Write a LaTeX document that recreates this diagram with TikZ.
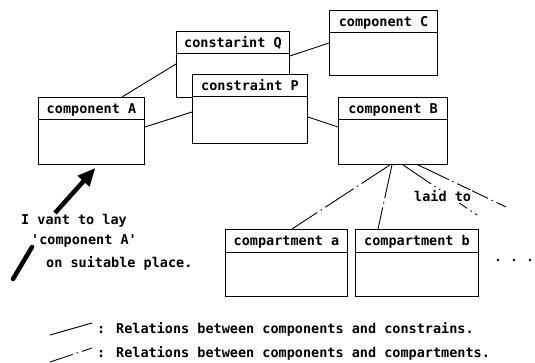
\documentclass[tikz,border=0pt]{standalone}
\usepackage{fontspec}
\newfontfamily\dotfont{DejaVu Sans Mono}
\usetikzlibrary{arrows.meta,calc}
\newcommand\ubox[7]{%
  \node[box, minimum width=#4pt, minimum height=#5pt] (#1) at (#2,#3) {};
  \draw[frame] ([yshift=-#6pt]#1.north west) -- ([yshift=-#6pt]#1.north east);
  \node[title] (#1t) at ([yshift=-17pt]#1.north) {#7};}
\begin{document}
\begin{tikzpicture}[x=1pt,y=-1pt,
  frame/.style={line width=0.9pt},
  box/.style={draw, fill=white, line width=0.9pt, inner sep=0pt, anchor=north west},
  title/.style={font=\dotfont\bfseries\fontsize{13.5}{14}\selectfont, inner sep=0pt, anchor=base},
  rel/.style={line width=0.9pt},
  relc/.style={line width=0.9pt, dash pattern=on 34pt off 4pt on 1.5pt off 4pt},
  txt/.style={font=\dotfont\bfseries\fontsize{13.5}{16}\selectfont, inner sep=0pt, anchor=base west},
  dot/.style={circle, fill, inner sep=0pt, minimum size=2.6pt},
  thickarrow/.style={line width=4.5pt, -{Triangle[length=18pt,width=15pt]}}]
\useasboundingbox (0,0) rectangle (535,363);
\fill[white] (0,0) rectangle (535,363);

% boxes
\ubox{A}{38}{97}{106}{67}{22}{component A}
\ubox{Q}{176}{31}{113}{66}{22}{constarint Q}
\ubox{P}{192}{74}{115}{69}{22}{constraint P}
\ubox{C}{329}{10}{108}{65}{22}{component C}
\ubox{B}{338}{97}{109}{67}{22}{component B}
\ubox{a}{225}{229}{122}{67}{23}{compartment a}
\ubox{b}{355}{229}{123}{67}{23}{compartment b}

% relations with constraints
\draw[rel] ([xshift=84pt]A.north west) -- ([yshift=-33pt]Q.north west);
\draw[rel] ([yshift=-30pt]A.north east) -- ([yshift=-38pt]P.north west);
\draw[rel] ([yshift=-25pt]Q.north east) -- ([yshift=-33pt]C.north west);
\draw[rel] ([yshift=-43pt]P.north east) -- ([yshift=-30pt]B.north west);

% relations with compartments
\coordinate (x1) at (477,215);
\coordinate (x2) at (506,207);
\draw[relc] ([xshift=52pt]B.south west) -- ([xshift=67pt]a.north west);
\draw[relc] ([xshift=54pt]B.south west) -- ([xshift=23pt]b.north west);
\draw[relc] ([xshift=65pt]B.south west) -- (x1);
\draw[relc] ([xshift=80pt]B.south west) -- (x2);
\node[txt, fill=white, inner sep=1pt] (laid) at (413,202) {laid to};
\node[dot] (d1) at (498,260) {};
\node[dot] (d2) at (514,260) {};
\node[dot] (d3) at (530,260) {};

% comment and arrow
\coordinate (s1) at (55,213);
\coordinate (s2) at (13,279);
\coordinate (s3) at (32,247);
\draw[thickarrow] (s1) -- ([xshift=4pt,yshift=-3pt]A.south);
\draw[line width=4.5pt, line cap=round] (s2) -- (s3);
\node[txt] (t1) at (21,225) {I vant to lay};
\node[txt] (t2) at (31,245) {'component A'};
\node[txt] (t3) at (46,268) {on suitable place.};

% legend
\coordinate (l1a) at (50,335);
\coordinate (l1b) at (92,323);
\coordinate (l2a) at (50,362);
\coordinate (l2b) at (92,348);
\draw[rel] (l1a) -- (l1b);
\draw[rel, dash pattern=on 24pt off 4pt on 1.5pt off 4pt] (l2a) -- (l2b);
\node[txt] (g1) at (97,333) {: Relations between components and constrains.};
\node[txt] (g2) at (97,357) {: Relations between components and compartments.};
\end{tikzpicture}
\end{document}
